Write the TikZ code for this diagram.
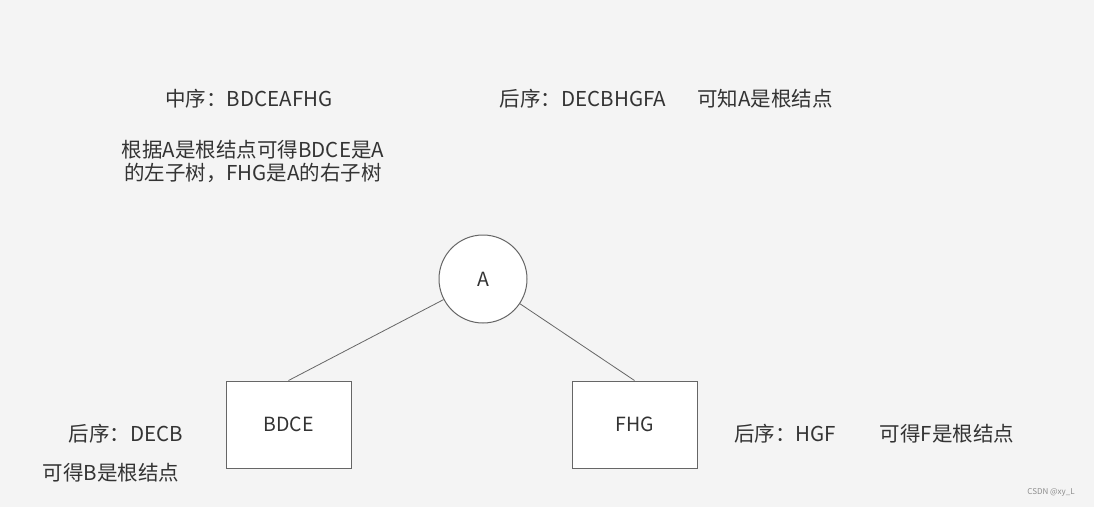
\documentclass[tikz,border=0pt]{standalone}
\usepackage{fontspec}
\setmainfont{Noto Sans CJK SC}
\usetikzlibrary{positioning}
\definecolor{paper}{RGB}{244,244,244}
\definecolor{ink}{RGB}{51,51,51}
\definecolor{edge}{RGB}{102,102,102}
\tikzset{
  treenode/.style={draw=edge,fill=white,line width=1pt,text=ink,font=\fontsize{19.5}{23}\selectfont},
  leafbox/.style={treenode,rectangle,minimum width=125pt,minimum height=87pt},
  rootdot/.style={treenode,circle,minimum size=88pt,inner sep=0pt},
  note/.style={text=ink,font=\fontsize{20.5}{23}\selectfont,inner sep=0pt,align=center}
}

\begin{document}
\begin{tikzpicture}[x=1pt,y=-1pt]
  % background
  \fill[paper] (0,0) rectangle (1094,507);
  \useasboundingbox (0,0) rectangle (1094,507);
  % tree
  \node[rootdot] (a) at (483,279) {A};
  \node[leafbox] (bdce) at (288.5,424.5) {BDCE};
  \node[leafbox] (fhg) at (634.5,424.5) {FHG};
  \draw[edge,line width=0.8pt] (a) -- (bdce.north);
  \draw[edge,line width=0.8pt] (a) -- (fhg.north);
  % notes
  \node[note] (inord) at (249,99) {中序：BDCEAFHG};
  \node[note] (postord) at (583,99) {后序：DECBHGFA};
  \node[note] (rootA) at (765,99) {可知A是根结点};
  \node[note] (split) at (253,161) {根据A是根结点可得BDCE是A\\的左子树，FHG是A的右子树};
  \node[note] (postL) at (126,434) {后序：DECB};
  \node[note] (rootB) at (111,473) {可得B是根结点};
  \node[note] (postR) at (785,434) {后序：HGF};
  \node[note] (rootF) at (947,434) {可得F是根结点};
  \node[text=black!45,font=\fontsize{8}{9}\selectfont,inner sep=0pt] (mark) at (1051,492) {CSDN @xy\_L};
\end{tikzpicture}
\end{document}
